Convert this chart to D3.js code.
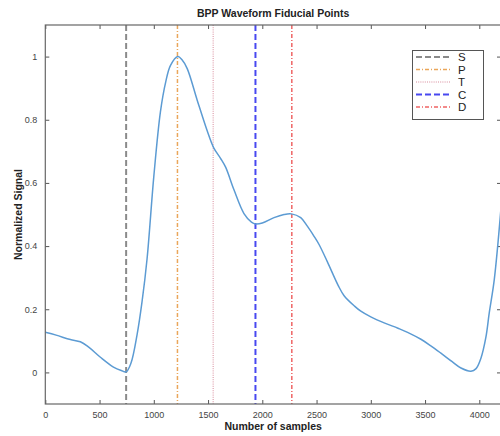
<!DOCTYPE html>
<html><head><meta charset="utf-8">
<script src="https://cdn.jsdelivr.net/npm/d3@7"></script>
<style>body{margin:0;background:#fff}svg{display:block;font-family:"Liberation Sans",Arial,sans-serif}</style>
</head><body><svg id="c" width="500" height="436"></svg>
<script>
const sampleIdx = [0,100,231,323,400,508,628,700,745,790,846,892,938,1000,1061,1110,1154,1221,1260,1308,1400,1492,1551,1615,1662,1738,1831,1900,1938,2000,2108,2200,2268,2354,2415,2477,2523,2600,2700,2754,2850,2908,3000,3123,3250,3339,3462,3550,3646,3750,3831,3923,3970,4015,4060,4092,4138,4200];
const signal = [0.127,0.118,0.104,0.097,0.08,0.048,0.017,0.006,0.002,0.03,0.12,0.225,0.36,0.62,0.825,0.92,0.972,1.0,0.99,0.962,0.862,0.765,0.712,0.678,0.65,0.579,0.503,0.476,0.470,0.473,0.49,0.5,0.502,0.49,0.463,0.431,0.405,0.35,0.275,0.243,0.21,0.194,0.176,0.157,0.14,0.127,0.105,0.085,0.061,0.034,0.014,0.004,0.012,0.045,0.11,0.189,0.294,0.52];
const fiducialNames = ["S","P","T","C","D"];
const fiducialSamples = [745,1218,1547,1937,2272];
const xTicks = [0,500,1000,1500,2000,2500,3000,3500,4000];
const yTicks = [0,0.2,0.4,0.6,0.8,1];
const fidStyles = [
  {color:"#8a8a8a", dash:"6,3", w:2},
  {color:"#eaa65a", dash:"4,2,1,2", w:1.5},
  {color:"#d88b9c", dash:"1,1.2", w:1},
  {color:"#4848f0", dash:"6,3", w:2},
  {color:"#ef6464", dash:"4,2,1,2", w:1.5}
];

const svg = d3.select("#c");
const L=45.3, R=501, T=25, B=404;
const x = d3.scaleLinear().domain([0,4200]).range([L,R]);
const y = d3.scaleLinear().domain([-0.1,1.1]).range([B,T]);

svg.append("defs").append("clipPath").attr("id","clip")
  .append("rect").attr("x",L).attr("y",T).attr("width",R-L).attr("height",B-T);

const axCol="#555";
const gx = svg.append("g").attr("transform",`translate(0,${B})`)
  .call(d3.axisBottom(x).tickValues(xTicks).tickSizeInner(-4).tickSizeOuter(0).tickPadding(8).tickFormat(d3.format("d")));
const gxt = svg.append("g").attr("transform",`translate(0,${T})`)
  .call(d3.axisTop(x).tickValues(xTicks).tickSizeInner(-4).tickSizeOuter(0).tickFormat(""));
const gy = svg.append("g").attr("transform",`translate(${L},0)`)
  .call(d3.axisLeft(y).tickValues(yTicks).tickSizeInner(-4).tickSizeOuter(0).tickPadding(8).tickFormat(d=>d===0?"0":d===1?"1":d3.format(".1f")(d)));
const gyr = svg.append("g").attr("transform",`translate(${R},0)`)
  .call(d3.axisRight(y).tickValues(yTicks).tickSizeInner(-4).tickSizeOuter(0).tickFormat(""));
[gx,gxt,gy,gyr].forEach(g=>{
  g.select(".domain").remove();
  g.selectAll("line").attr("stroke",axCol);
  g.selectAll("text").attr("fill","#444").attr("font-size","9px").attr("font-family","Liberation Sans, Arial, sans-serif");
});

const plot = svg.append("g").attr("clip-path","url(#clip)");
fiducialSamples.forEach((s,i)=>{
  const st=fidStyles[i];
  plot.append("line").attr("x1",x(s)).attr("x2",x(s)).attr("y1",T).attr("y2",B)
    .attr("stroke",st.color).attr("stroke-width",st.w).attr("stroke-dasharray",st.dash);
});

const pts = sampleIdx.map((s,i)=>[s,signal[i]]);
plot.append("path").datum(pts)
  .attr("d", d3.line().x(d=>x(d[0])).y(d=>y(d[1])).curve(d3.curveCatmullRom.alpha(0.5)))
  .attr("fill","none").attr("stroke","#5c9bd3").attr("stroke-width",1.5);

svg.append("rect").attr("x",L).attr("y",T).attr("width",R-L).attr("height",B-T)
  .attr("fill","none").attr("stroke","#666").attr("stroke-width",1.2);

svg.append("text").attr("x",(L+R)/2).attr("y",17).attr("text-anchor","middle")
  .attr("font-size","10.5px").attr("font-weight","bold").attr("fill","#222").text("BPP Waveform Fiducial Points");
svg.append("text").attr("x",(L+R)/2).attr("y",430).attr("text-anchor","middle")
  .attr("font-size","10.5px").attr("font-weight","bold").attr("fill","#222").text("Number of samples");
svg.append("text").attr("transform",`translate(22,${(T+B)/2}) rotate(-90)`).attr("text-anchor","middle")
  .attr("font-size","10.5px").attr("font-weight","bold").attr("fill","#222").text("Normalized Signal");

const lg = svg.append("g");
lg.append("rect").attr("x",412.5).attr("y",50.5).attr("width",71).attr("height",69)
  .attr("fill","#fff").attr("stroke","#555").attr("stroke-width",1);
fiducialNames.forEach((n,i)=>{
  const yy = 57 + i*12.5;
  const st=fidStyles[i];
  lg.append("line").attr("x1",416).attr("x2",451).attr("y1",yy).attr("y2",yy)
    .attr("stroke",st.color).attr("stroke-width",st.w).attr("stroke-dasharray",st.dash);
  lg.append("text").attr("x",458).attr("y",yy+4).attr("font-size","11.5px").attr("fill","#222").text(n);
});
</script></body></html>
